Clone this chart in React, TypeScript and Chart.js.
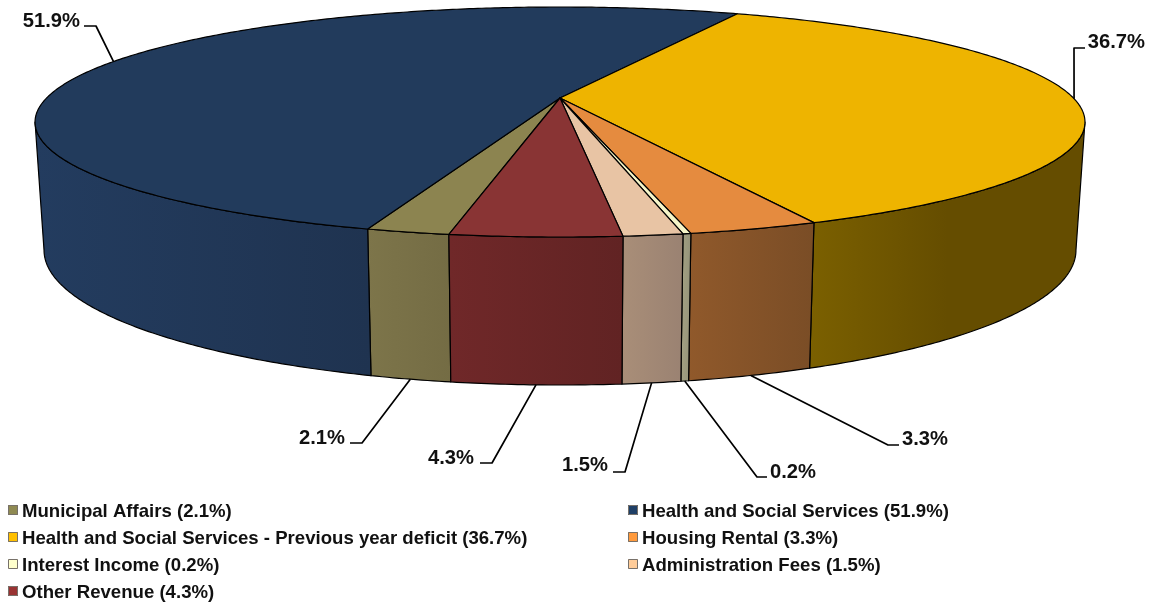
import React, { useEffect, useRef } from "react";
import { Chart, registerables } from "chart.js";

Chart.register(...registerables);

const categories = [
  "Municipal Affairs",
  "Health and Social Services",
  "Health and Social Services - Previous year deficit",
  "Housing Rental",
  "Interest Income",
  "Administration Fees",
  "Other Revenue",
];
const shares = [2.1, 51.9, 36.7, 3.3, 0.2, 1.5, 4.3];

const topColors = ["#8C8450", "#223B5C", "#EEB400", "#E58B3F", "#F5F5C8", "#E8C4A4", "#893434"];
const wallLight = ["#7D754A", "#233C5F", "#7B6000", "#90592B", "#A3A182", "#A98E78", "#702829"];
const wallDark = ["#746C44", "#1F3350", "#654D00", "#7A4D26", "#95937A", "#9A8272", "#612323"];
const swatchColors = ["#8F8A52", "#1F3F66", "#FFC000", "#FF9A3C", "#FFFFCC", "#FFCC99", "#993333"];

const FONT = 'bold 20.2px "Liberation Sans", Arial, sans-serif';
const LEGEND_FONT = 'bold 18.6px "Liberation Sans", Arial, sans-serif';

// Projection of the pie disc (perspective view)
const CX = 560;
const K = 0.2087;
const TOP = { rx: 513.4, ry: 110, cy: 98 };
const BOTTOM = { rx: 504.6, ry: 129, cy: 222 };
const VISIBLE_FROM = Math.PI - Math.acos(K);
const VISIBLE_TO = Math.PI + Math.acos(K);

type Plane = { rx: number; ry: number; cy: number };
const project = (a: number, p: Plane): [number, number] => {
  const x = Math.sin(a);
  const y = -Math.cos(a);
  const w = 1 - K * y;
  return [CX + (p.rx * x) / w, p.cy + (p.ry * y) / w];
};
const rim = (a0: number, a1: number, p: Plane) => {
  const n = Math.max(2, Math.ceil(Math.abs(a1 - a0) / 0.01));
  const pts: [number, number][] = [];
  for (let i = 0; i <= n; i++) pts.push(project(a0 + ((a1 - a0) * i) / n, p));
  return pts;
};

// Callout layout: label text anchor and leader-line elbow, one per category
const callouts = [
  { plane: "bottom", elbow: [362, 443], end: [350, 443], text: [345, 444], align: "right" },
  { plane: "top", elbow: [96, 26], end: [84, 26], text: [80, 27], align: "right" },
  { plane: "top", elbow: [1074, 48], end: [1085, 48], text: [1145, 48], align: "right" },
  { plane: "bottom", elbow: [888, 445], end: [899, 445], text: [948, 445], align: "right" },
  { plane: "bottom", elbow: [757, 477], end: [767, 477], text: [816, 478], align: "right" },
  { plane: "bottom", elbow: [625, 472], end: [613, 472], text: [608, 471], align: "right" },
  { plane: "bottom", elbow: [492, 463], end: [480, 463], text: [474, 464], align: "right" },
];
const legendCols = [8, 628];
const legendRows = [517, 544, 571, 598];

const piePlugin = {
  id: "perspectivePie",
  beforeDatasetDraw(chart: any) {
    const ctx: CanvasRenderingContext2D = chart.ctx;
    const arcs = chart.getDatasetMeta(0).data as any[];
    const span = arcs.map((arc) => [arc.startAngle + Math.PI / 2, arc.endAngle + Math.PI / 2]);

    ctx.save();
    ctx.lineJoin = "round";
    ctx.lineWidth = 1.2;
    ctx.strokeStyle = "#000";

    // side walls
    span.forEach(([a0, a1], i) => {
      for (const shift of [0, Math.PI * 2]) {
        const from = Math.max(a0, VISIBLE_FROM + shift);
        const to = Math.min(a1, VISIBLE_TO + shift);
        if (to <= from) continue;
        const upper = rim(from, to, TOP);
        const lower = rim(to, from, BOTTOM);
        const xs = [...upper, ...lower].map((p) => p[0]);
        const g = ctx.createLinearGradient(Math.min(...xs), 0, Math.max(...xs), 0);
        g.addColorStop(0, wallLight[i]);
        g.addColorStop(i === 2 ? 0.5 : 1, wallDark[i]);
        if (i === 2) g.addColorStop(1, wallDark[i]);
        ctx.beginPath();
        [...upper, ...lower].forEach((p, n) => (n ? ctx.lineTo(p[0], p[1]) : ctx.moveTo(p[0], p[1])));
        ctx.closePath();
        ctx.fillStyle = g;
        ctx.fill();
        ctx.stroke();
      }
    });

    // top surface
    span.forEach(([a0, a1], i) => {
      ctx.beginPath();
      ctx.moveTo(CX, TOP.cy);
      rim(a0, a1, TOP).forEach((p) => ctx.lineTo(p[0], p[1]));
      ctx.closePath();
      ctx.fillStyle = topColors[i];
      ctx.fill();
      ctx.stroke();
    });

    // callouts
    ctx.lineWidth = 1.7;
    ctx.fillStyle = "#111";
    ctx.font = FONT;
    ctx.textBaseline = "alphabetic";
    span.forEach(([a0, a1], i) => {
      const c = callouts[i];
      const mid = (a0 + a1) / 2;
      const start = project(mid, c.plane === "top" ? TOP : BOTTOM);
      ctx.beginPath();
      ctx.moveTo(start[0], start[1]);
      ctx.lineTo(c.elbow[0], c.elbow[1]);
      ctx.lineTo(c.end[0], c.end[1]);
      ctx.stroke();
      ctx.textAlign = c.align as CanvasTextAlign;
      ctx.fillText(`${shares[i].toFixed(1)}%`, c.text[0], c.text[1]);
    });

    // legend
    ctx.font = LEGEND_FONT;
    ctx.textAlign = "left";
    categories.forEach((name, i) => {
      const x = legendCols[i % 2];
      const y = legendRows[Math.floor(i / 2)];
      ctx.fillStyle = swatchColors[i];
      ctx.fillRect(x, y - 12, 10, 10);
      ctx.lineWidth = 1;
      ctx.strokeStyle = "#77716A";
      ctx.strokeRect(x + 0.5, y - 11.5, 9, 9);
      ctx.fillStyle = "#111";
      ctx.fillText(`${name} (${shares[i].toFixed(1)}%)`, x + 14, y);
    });
    ctx.restore();
    return false;
  },
};

export default function App() {
  const ref = useRef<HTMLCanvasElement>(null);
  useEffect(() => {
    document.body.style.margin = "0";
    const chart = new Chart(ref.current as HTMLCanvasElement, {
      type: "pie",
      data: {
        labels: categories,
        datasets: [{ data: shares, backgroundColor: topColors }],
      },
      options: {
        responsive: false,
        animation: false,
        rotation: 189.9,
        plugins: { legend: { display: false }, tooltip: { enabled: false } },
      },
      plugins: [piePlugin],
    } as any);
    return () => chart.destroy();
  }, []);
  return <canvas ref={ref} width={1157} height={605} style={{ display: "block" }} />;
}
